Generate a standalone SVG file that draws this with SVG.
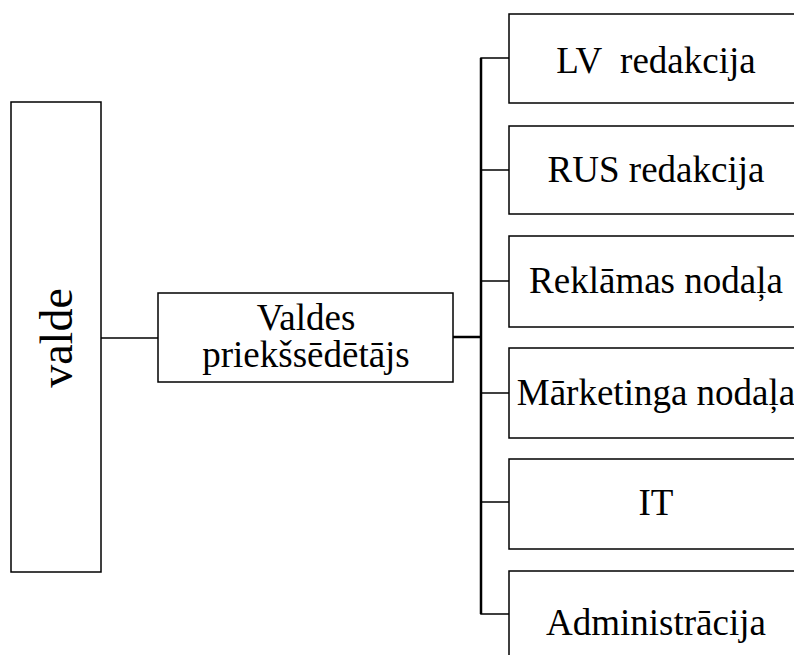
<svg xmlns="http://www.w3.org/2000/svg" width="794" height="655" viewBox="0 0 794 655">
<style>
.box{fill:#fff;stroke:#000;stroke-width:1.5}
.t{font-family:"Liberation Serif","Times New Roman",serif;font-size:37px;fill:#000;text-anchor:middle}
.c{fill:none;stroke:#000;stroke-width:1.5}
.ct{fill:none;stroke:#000;stroke-width:2.5}
</style>
<rect width="794" height="655" fill="#fff"/>
<g id="connectors">
<line class="c" x1="101" y1="338" x2="158" y2="338"/>
<line class="ct" x1="453" y1="337" x2="481" y2="337"/>
<polyline class="c" points="509,58 481,58 481,614 509,614"/>
<line class="ct" x1="481" y1="58" x2="481" y2="614"/>
<line class="c" x1="481" y1="170" x2="509" y2="170"/>
<line class="c" x1="481" y1="281" x2="509" y2="281"/>
<line class="c" x1="481" y1="393" x2="509" y2="393"/>
<line class="c" x1="481" y1="502" x2="509" y2="502"/>
</g>
<g id="valde">
<rect class="box" x="11" y="102" width="90" height="470"/>
<text class="t" style="font-size:46px" transform="translate(72,338) rotate(-90)">valde</text>
</g>
<g id="priekssedetajs">
<rect class="box" x="158" y="293" width="295" height="89"/>
<text class="t" x="306" y="330">Valdes</text>
<text class="t" x="306" y="367">priekšsēdētājs</text>
</g>
<g id="lv">
<rect class="box" x="509" y="14" width="295" height="89"/>
<text class="t" x="656" y="73" xml:space="preserve">LV  redakcija</text>
</g>
<g id="rus">
<rect class="box" x="509" y="126" width="295" height="88"/>
<text class="t" x="656" y="182">RUS redakcija</text>
</g>
<g id="reklamas">
<rect class="box" x="509" y="236" width="295" height="91"/>
<text class="t" x="656" y="293">Reklāmas nodaļa</text>
</g>
<g id="marketinga">
<rect class="box" x="509" y="348" width="295" height="90"/>
<text class="t" x="656" y="405">Mārketinga nodaļa</text>
</g>
<g id="it">
<rect class="box" x="509" y="459" width="295" height="90"/>
<text class="t" x="656" y="515">IT</text>
</g>
<g id="administracija">
<rect class="box" x="509" y="571" width="295" height="100"/>
<text class="t" x="656" y="635">Administrācija</text>
</g>
</svg>
